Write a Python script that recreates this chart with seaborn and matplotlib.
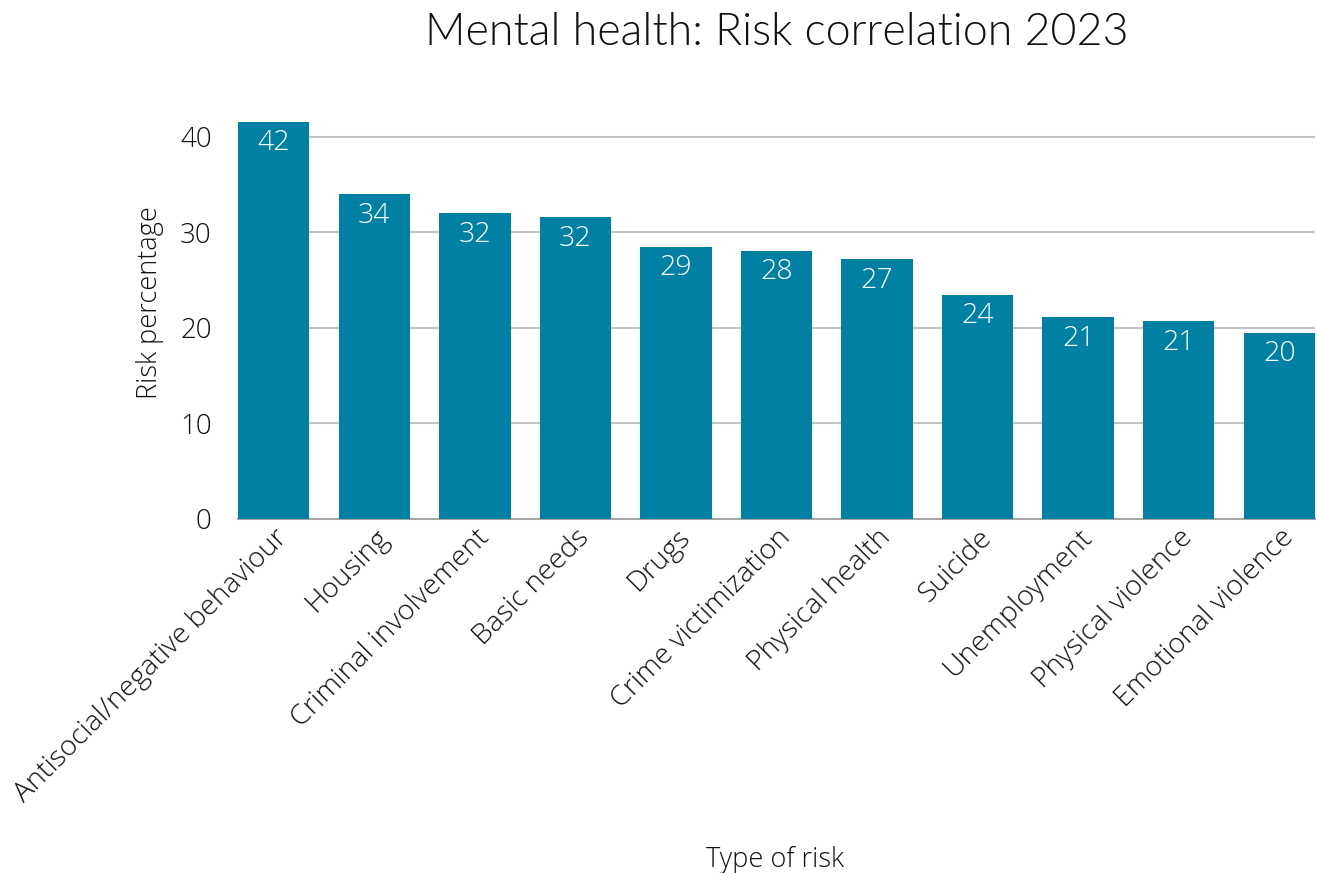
import math
import matplotlib
matplotlib.use("Agg")
import matplotlib.pyplot as plt
import seaborn as sns
import pandas as pd

categories = ["Antisocial/negative behaviour", "Housing", "Criminal involvement",
              "Basic needs", "Drugs", "Crime victimization", "Physical health",
              "Suicide", "Unemployment", "Physical violence", "Emotional violence"]
values = [41.6, 34.0, 32.0, 31.6, 28.5, 28.1, 27.2, 23.5, 21.1, 20.7, 19.5]
yticks = [0, 10, 20, 30, 40]
title = "Mental health: Risk correlation 2023"
xlabel = "Type of risk"
ylabel = "Risk percentage"

sns.set_theme(style="white")
plt.rcParams['font.family'] = ['Open Sans', 'DejaVu Sans']
plt.rcParams['font.weight'] = 300

df = pd.DataFrame({"cat": categories, "val": values})

fig = plt.figure(figsize=(13.17, 8.73), dpi=100)
ax = fig.add_axes([0.1807, 0.4055, 0.8178, 0.4595])
bar_color = "#0080A3"
sns.barplot(data=df, x="cat", y="val", color=bar_color, width=0.71,
            saturation=1, ax=ax, zorder=3, linewidth=0)
ax.set_xlim(-0.355, len(categories) - 1 + 0.355)
ax.set_ylim(0, 42)
ax.set_yticks(yticks)
ax.yaxis.grid(True, color="#C4C4C4", linewidth=1.5, zorder=0)
ax.set_axisbelow(True)
for s in ["top", "right", "left"]:
    ax.spines[s].set_visible(False)
ax.spines["bottom"].set_color("#A6A6A6")
ax.spines["bottom"].set_linewidth(1.5)
ax.tick_params(axis="both", length=0, labelsize=20, colors="#111111")
ax.tick_params(axis="y", pad=19)
ax.set_xticks(range(len(categories)))
ax.set_xticklabels(categories, rotation=45, ha="right", rotation_mode="anchor",
                   fontsize=20.5)

for i, v in enumerate(values):
    ax.text(i, v - 0.8, str(math.floor(v + 0.5)), ha="center", va="top",
            color="white", fontsize=20.5)

ax.set_xlabel("")
ax.set_ylabel("")
fig.text(150 / 1317, 1 - 303 / 873, ylabel, rotation=90, ha="center",
         va="center", fontsize=19.5, fontweight=300, color="#111111")
fig.text(777 / 1317, 0.963, title, family=['Lato', 'DejaVu Sans'], fontsize=32.2,
         fontweight=300, ha="center", va="center", color="#111111")
fig.text(775 / 1317, 1 - 860 / 873, xlabel, ha="center", va="center",
         fontsize=19.5, fontweight=300, color="#111111")

fig.savefig("out.png", dpi=100)
